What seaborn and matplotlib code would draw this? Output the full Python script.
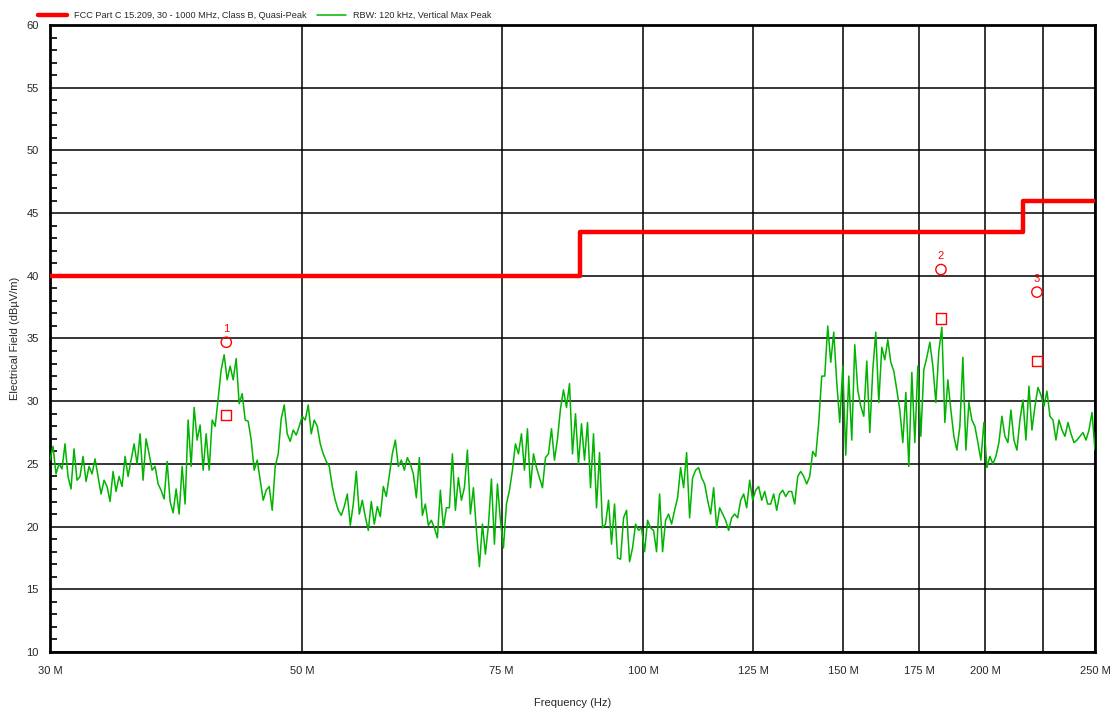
import matplotlib
matplotlib.use("Agg")
import matplotlib.pyplot as plt
import matplotlib.ticker as mticker
import seaborn as sns
import numpy as np
import pandas as pd

# ---- data ----
# sweep 30 - 250 MHz, levels (dBuV/m)
sweep_start_mhz = 30
sweep_stop_mhz = 250
trace_level = [
    25.3, 26.4, 24.2, 25.0, 24.6, 26.6, 24.0, 23.0, 26.2, 23.7,
    24.0, 25.6, 23.6, 24.8, 24.2, 25.4, 24.0, 22.6, 23.7, 23.2,
    22.0, 24.4, 22.8, 24.0, 23.2, 25.6, 24.0, 25.3, 26.6, 25.0,
    27.4, 23.7, 27.0, 25.8, 24.5, 24.8, 23.4, 22.9, 22.2, 25.2,
    22.0, 21.1, 23.0, 21.0, 24.8, 21.8, 28.5, 24.8, 29.5, 26.9,
    28.1, 24.5, 27.4, 24.5, 28.5, 28.0, 30.2, 32.5, 33.7, 31.7,
    32.8, 31.7, 33.4, 29.8, 30.6, 28.5, 28.4, 26.9, 24.5, 25.3,
    23.7, 22.1, 22.9, 23.2, 21.3, 24.8, 25.8, 28.6, 29.7, 27.4,
    26.8, 27.7, 27.3, 28.0, 28.8, 28.5, 29.7, 27.4, 28.5, 28.0,
    26.6, 25.8, 25.2, 24.8, 23.2, 22.1, 21.3, 20.9, 21.6, 22.6,
    20.1, 21.8, 24.4, 21.0, 22.1, 20.8, 19.7, 22.0, 20.2, 21.6,
    20.8, 23.2, 22.4, 24.1, 25.8, 26.9, 24.8, 25.3, 24.5, 25.5,
    25.0, 24.2, 22.3, 25.5, 20.9, 21.8, 20.1, 20.5, 19.9, 19.1,
    22.9, 19.9, 21.5, 21.5, 25.8, 21.3, 23.9, 22.1, 23.1, 26.1,
    21.0, 23.1, 19.7, 16.8, 20.2, 17.8, 20.1, 23.8, 18.6, 23.4,
    20.5, 18.3, 21.8, 22.9, 24.5, 26.6, 25.8, 27.4, 24.5, 27.8,
    23.1, 25.8, 24.7, 23.9, 23.1, 25.5, 25.8, 27.8, 25.3, 27.0,
    29.4, 30.9, 29.5, 31.4, 25.8, 29.0, 25.0, 28.2, 25.3, 28.3,
    23.1, 27.4, 21.5, 25.9, 19.9, 20.2, 22.1, 18.6, 21.8, 17.5,
    17.4, 20.7, 21.3, 17.2, 18.3, 20.2, 19.7, 19.9, 18.0, 20.5,
    19.9, 19.7, 18.0, 22.6, 18.0, 20.5, 21.0, 20.2, 21.3, 22.3,
    24.7, 23.1, 25.9, 20.7, 23.9, 24.5, 24.7, 23.9, 23.4, 22.1,
    21.0, 23.1, 19.9, 21.5, 21.0, 20.5, 19.7, 20.7, 21.0, 20.7,
    22.1, 22.6, 21.5, 23.7, 22.1, 22.9, 23.2, 22.1, 22.8, 21.8,
    21.8, 22.6, 21.3, 22.6, 22.9, 22.4, 22.8, 22.8, 21.8, 24.0,
    24.4, 24.0, 23.4, 24.0, 26.0, 25.6, 28.3, 32.0, 32.0, 36.0,
    33.1, 35.5, 31.5, 28.3, 32.8, 25.7, 32.0, 26.9, 34.5, 30.9,
    29.6, 28.8, 33.2, 27.5, 32.5, 35.5, 29.9, 34.3, 33.3, 34.9,
    33.1, 32.4, 30.9, 29.3, 26.7, 30.7, 24.8, 32.3, 26.7, 32.8,
    27.2, 32.5, 33.5, 34.7, 32.8, 29.9, 34.0, 35.9, 28.3, 31.7,
    29.3, 27.2, 26.1, 28.0, 33.5, 26.1, 29.9, 28.5, 28.0, 26.7,
    25.3, 28.3, 24.7, 25.6, 25.0, 25.6, 26.7, 28.8, 27.2, 26.7,
    29.3, 26.9, 26.1, 28.5, 30.1, 26.9, 31.2, 27.7, 29.6, 31.1,
    30.5, 29.6, 30.8, 28.8, 28.5, 26.9, 28.5, 27.7, 27.2, 28.3,
    27.4, 26.7, 26.9, 27.2, 27.5, 26.9, 27.7, 29.1, 26.1,
]

# FCC 15.209 class B limit (steps)
limit_freq_mhz = [30, 88, 216, 250]
limit_level = [40.0, 43.5, 46.0, 46.0]

# final measurement points
marker_id = ["1", "2", "3"]
marker_freq_mhz = [42.9, 182.9, 222.2]
peak_level = [34.7, 40.5, 38.7]
qp_level = [28.9, 36.6, 33.2]

tick_mhz = [30, 50, 75, 100, 125, 150, 175, 200, 225, 250]
tick_txt = ["30 M", "50 M", "75 M", "100 M", "125 M", "150 M", "175 M", "200 M", "", "250 M"]

# dataframes
freq_hz = np.geomspace(sweep_start_mhz, sweep_stop_mhz, len(trace_level)) * 1e6
df_trace = pd.DataFrame({"freq": freq_hz, "level": trace_level})
df_limit = pd.DataFrame({"freq": np.array(limit_freq_mhz) * 1e6, "level": limit_level})
df_mark = pd.DataFrame({"freq": np.array(marker_freq_mhz) * 1e6,
                        "peak": peak_level, "qp": qp_level, "id": marker_id})

# ---- style ----
sns.set_theme(style="white")
plt.rcParams["font.family"] = ["Liberation Sans", "DejaVu Sans"]

red = "#ff0000"
green = "#00b400"

fig = plt.figure(figsize=(11.15, 7.13), dpi=100)
ax = fig.add_axes([50 / 1115, 1 - 652 / 713, 1045 / 1115, 627 / 713])

sns.lineplot(data=df_limit, x="freq", y="level", ax=ax, color=red, lw=3.2,
             drawstyle="steps-post", estimator=None, sort=False, zorder=4,
             label="FCC Part C 15.209, 30 - 1000 MHz, Class B, Quasi-Peak")
sns.lineplot(data=df_trace, x="freq", y="level", ax=ax, color=green, lw=1.1,
             estimator=None, sort=False, zorder=3,
             label="RBW: 120 kHz, Vertical Max Peak")

# markers
sns.scatterplot(data=df_mark, x="freq", y="peak", ax=ax, marker="o", s=55,
                facecolor="none", edgecolor=red, linewidth=1.0, zorder=5, legend=False)
sns.scatterplot(data=df_mark, x="freq", y="qp", ax=ax, marker="s", s=55,
                facecolor="none", edgecolor=red, linewidth=1.0, zorder=5, legend=False)
for _, r in df_mark.iterrows():
    ax.annotate(r["id"], (r["freq"], r["peak"]), xytext=(0, 6),
                textcoords="offset points", ha="center", va="bottom",
                color=red, fontsize=8)

# axes
ax.set_xscale("log")
ax.set_xlim(30e6, 250e6)
ax.set_ylim(10, 60)
ax.xaxis.set_major_locator(mticker.FixedLocator(np.array(tick_mhz) * 1e6))
ax.xaxis.set_major_formatter(mticker.FixedFormatter(tick_txt))
ax.xaxis.set_minor_locator(mticker.NullLocator())
ax.yaxis.set_major_locator(mticker.MultipleLocator(5))
ax.yaxis.set_minor_locator(mticker.MultipleLocator(1))
ax.tick_params(axis="both", which="major", direction="out", length=5, width=1.2,
               color="black", labelsize=8, pad=3)
ax.tick_params(axis="y", which="minor", direction="in", length=5, width=1.2,
               color="black", left=True)
ax.tick_params(axis="x", which="major", pad=5)

ax.grid(True, which="major", color="black", lw=1.1)
ax.set_axisbelow(True)
for s in ax.spines.values():
    s.set_color("black")
    s.set_linewidth(2.0)

ax.set_xlabel("Frequency (Hz)", fontsize=8, labelpad=16)
ax.set_ylabel("Electrical Field (dBµV/m)", fontsize=8, labelpad=5)

ax.legend(loc="lower left", bbox_to_anchor=(-0.014, 1.004), ncol=2, frameon=False,
          fontsize=6.6, handlelength=3.1, handletextpad=0.8, columnspacing=1.2,
          borderaxespad=0.2, borderpad=0.1)

fig.savefig("out.png", dpi=100)
